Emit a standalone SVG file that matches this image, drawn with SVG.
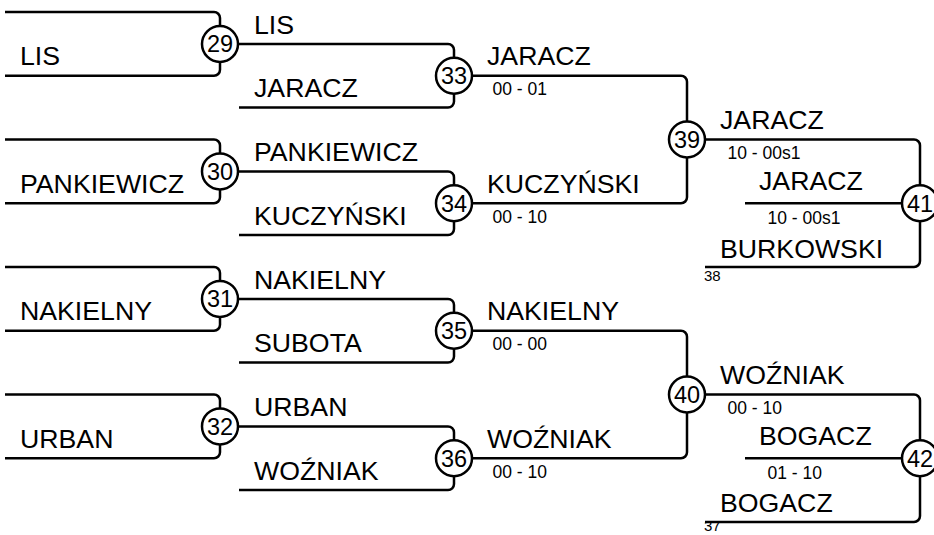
<svg xmlns="http://www.w3.org/2000/svg" width="934" height="535" viewBox="0 0 934 535">
<style>
.ln{fill:none;stroke:#000;stroke-width:2.5;stroke-linejoin:round}
.c{fill:#fff;stroke:#000;stroke-width:2.5}
.num{font-family:"Liberation Sans",Arial,sans-serif;font-size:23.5px;text-anchor:middle;fill:#000}
.nm{font-family:"Liberation Sans",Arial,sans-serif;font-size:26.7px;fill:#000}
.sc{font-family:"Liberation Sans",Arial,sans-serif;font-size:17.5px;fill:#000}
.lb{font-family:"Liberation Sans",Arial,sans-serif;font-size:15px;fill:#000}
</style>
<rect width="934" height="535" fill="#fff"/>
<g id="connectors">
<path class="ln" d="M5,12 H214 A6,6 0 0 1 220,18 V44 M5,75.75 H214 A6,6 0 0 0 220,69.75 V44"/>
<path class="ln" d="M5,139.5 H214 A6,6 0 0 1 220,145.5 V171.4 M5,203.25 H214 A6,6 0 0 0 220,197.25 V171.4"/>
<path class="ln" d="M5,267 H214 A6,6 0 0 1 220,273 V298.9 M5,330.75 H214 A6,6 0 0 0 220,324.75 V298.9"/>
<path class="ln" d="M5,394.5 H214 A6,6 0 0 1 220,400.5 V426.4 M5,458.25 H214 A6,6 0 0 0 220,452.25 V426.4"/>
<path class="ln" d="M220,44 H448 A6,6 0 0 1 454,50 V75.75 M239,107.6 H448 A6,6 0 0 0 454,101.6 V75.75"/>
<path class="ln" d="M220,171.4 H448 A6,6 0 0 1 454,177.4 V203.25 M239,235.1 H448 A6,6 0 0 0 454,229.1 V203.25"/>
<path class="ln" d="M220,298.9 H448 A6,6 0 0 1 454,304.9 V330.75 M239,362.6 H448 A6,6 0 0 0 454,356.6 V330.75"/>
<path class="ln" d="M220,426.4 H448 A6,6 0 0 1 454,432.4 V458.25 M239,490.1 H448 A6,6 0 0 0 454,484.1 V458.25"/>
<path class="ln" d="M454,75.75 H681 A6,6 0 0 1 687,81.75 V139.5 M454,203.25 H681 A6,6 0 0 0 687,197.25 V139.5"/>
<path class="ln" d="M454,330.75 H681 A6,6 0 0 1 687,336.75 V394.5 M454,458.25 H681 A6,6 0 0 0 687,452.25 V394.5"/>
<path class="ln" d="M687,139.5 H914 A6,6 0 0 1 920,145.5 V203.25 M705,267 H914 A6,6 0 0 0 920,261 V203.25 M745,203.25 H920"/>
<path class="ln" d="M687,394.5 H914 A6,6 0 0 1 920,400.5 V458.25 M705,522 H914 A6,6 0 0 0 920,516 V458.25 M745,458.25 H920"/>
</g>
<g id="m29"><circle class="c" cx="220" cy="44" r="18"/><text class="num" x="220" y="52.3">29</text></g>
<g id="m30"><circle class="c" cx="220" cy="171.4" r="18"/><text class="num" x="220" y="179.7">30</text></g>
<g id="m31"><circle class="c" cx="220" cy="298.9" r="18"/><text class="num" x="220" y="307.2">31</text></g>
<g id="m32"><circle class="c" cx="220" cy="426.4" r="18"/><text class="num" x="220" y="434.7">32</text></g>
<g id="m33"><circle class="c" cx="454" cy="75.75" r="18"/><text class="num" x="454" y="84">33</text></g>
<g id="m34"><circle class="c" cx="454" cy="203.25" r="18"/><text class="num" x="454" y="211.5">34</text></g>
<g id="m35"><circle class="c" cx="454" cy="330.75" r="18"/><text class="num" x="454" y="339">35</text></g>
<g id="m36"><circle class="c" cx="454" cy="458.25" r="18"/><text class="num" x="454" y="466.5">36</text></g>
<g id="m39"><circle class="c" cx="687" cy="139.5" r="18"/><text class="num" x="687" y="147.8">39</text></g>
<g id="m40"><circle class="c" cx="687" cy="394.5" r="18"/><text class="num" x="687" y="402.8">40</text></g>
<g id="m41"><circle class="c" cx="920" cy="203.25" r="18"/><text class="num" x="920" y="211.5">41</text></g>
<g id="m42"><circle class="c" cx="920" cy="458.25" r="18"/><text class="num" x="920" y="466.5">42</text></g>
<g id="labels">
<text class="nm" x="20" y="65">LIS</text>
<text class="nm" x="20" y="192.5">PANKIEWICZ</text>
<text class="nm" x="20" y="320">NAKIELNY</text>
<text class="nm" x="20" y="447.5">URBAN</text>
<text class="nm" x="254" y="33.5">LIS</text>
<text class="nm" x="254" y="97">JARACZ</text>
<text class="nm" x="254" y="161">PANKIEWICZ</text>
<text class="nm" x="254" y="224.5">KUCZYŃSKI</text>
<text class="nm" x="254" y="288.5">NAKIELNY</text>
<text class="nm" x="254" y="352">SUBOTA</text>
<text class="nm" x="254" y="416">URBAN</text>
<text class="nm" x="254" y="479.5">WOŹNIAK</text>
<text class="nm" x="487" y="65">JARACZ</text>
<text class="sc" x="492.5" y="95">00 - 01</text>
<text class="nm" x="487" y="192.5">KUCZYŃSKI</text>
<text class="sc" x="492.5" y="222.5">00 - 10</text>
<text class="nm" x="487" y="320">NAKIELNY</text>
<text class="sc" x="492.5" y="350">00 - 00</text>
<text class="nm" x="487" y="447.5">WOŹNIAK</text>
<text class="sc" x="492.5" y="477.5">00 - 10</text>
<text class="nm" x="720" y="128.5">JARACZ</text>
<text class="sc" x="727.5" y="159">10 - 00s1</text>
<text class="nm" x="759" y="190">JARACZ</text>
<text class="sc" x="767.5" y="224">10 - 00s1</text>
<text class="nm" x="720" y="257.5">BURKOWSKI</text>
<text class="lb" x="704" y="281">38</text>
<text class="nm" x="720" y="383.5">WOŹNIAK</text>
<text class="sc" x="727.5" y="414">00 - 10</text>
<text class="nm" x="759" y="445">BOGACZ</text>
<text class="sc" x="767.5" y="479">01 - 10</text>
<text class="nm" x="720" y="511.5">BOGACZ</text>
<text class="lb" x="704" y="531">37</text>
</g>
</svg>
